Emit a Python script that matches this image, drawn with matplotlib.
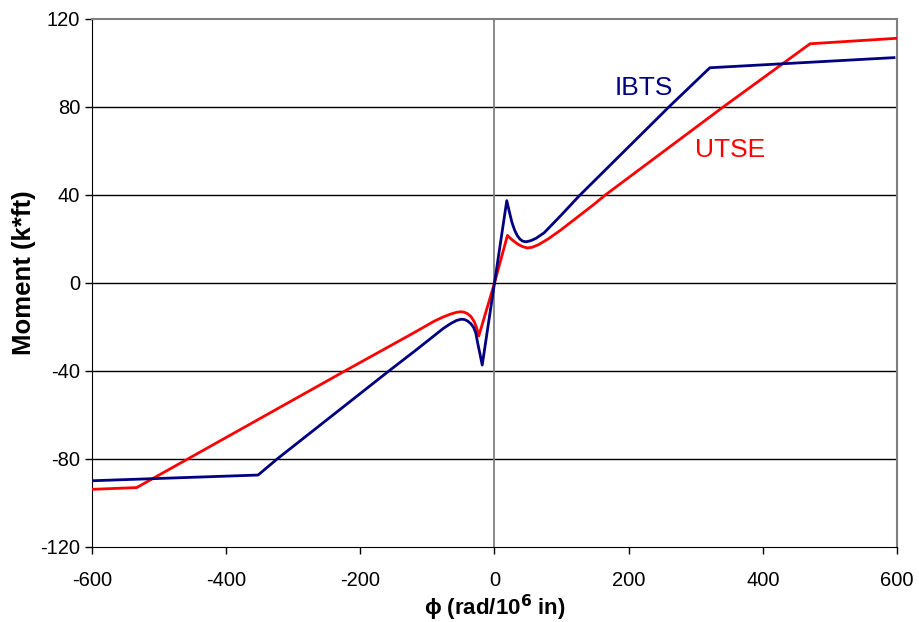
import numpy as np
import matplotlib
matplotlib.use("Agg")
from matplotlib import pyplot as plt

plt.rcParams['font.family'] = ['Liberation Sans', 'DejaVu Sans']
plt.rcParams['axes.unicode_minus'] = False

# IBTS curve (curvature in rad/10^6 in, moment in k*ft)
ibts_phi = [-600, -352.4, -324, -157.4, -117, -76, -65, -57, -50, -45, -40, -35,
            -31, -28, -25, -21.5, -18.3, 0, 18.3, 22, 26, 30, 34, 38, 42, 47,
            54, 62, 74, 100, 126, 260, 321, 595.5]
ibts_m = [-89.9, -87.3, -80, -40, -30.5, -20.6, -18.4, -17.1, -16.5, -16.6, -17.3, -18.6,
          -20.3, -22.6, -27.4, -32.5, -37.3, 0, 37.4, 32.5, 27.5, 24, 21.5, 19.9, 19, 18.7,
          19.2, 20.3, 22.8, 31, 39.5, 80, 97.8, 102.4]

# UTSE curve
utse_phi = [-600, -533.4, -223, -117, -90, -76, -65, -56, -50, -45, -40, -35, -30,
            -26.5, -23.4, 0, 19.3, 24, 30, 36, 42, 49, 56, 65, 80, 99, 149,
            165.3, 341, 470.4, 600]
utse_m = [-93.8, -93, -40, -22.1, -17.4, -15.4, -14.1, -13.3, -13.1, -13.3, -14, -15.3, -17.7,
          -20.5, -24.1, 0, 21.6, 20.2, 18.7, 17.4, 16.5, 15.9, 16.2, 17.3, 20, 24.1, 35.9,
          40, 80, 108.7, 111.2]

xticks = [-600, -400, -200, 0, 200, 400, 600]
yticks = [-120, -80, -40, 0, 40, 80, 120]

fig = plt.figure(figsize=(9.2, 6.22), dpi=100)
ax = fig.add_axes([0.1, 0.1206, 0.875, 0.849])

for y in yticks[1:-1]:
    ax.axhline(y, color='black', lw=1.0, zorder=1)
ax.axvline(0, color='#808080', lw=1.3, zorder=1)

ax.plot(utse_phi, utse_m, color='#FF0000', lw=2.0, zorder=3, solid_joinstyle='round')
ax.plot(ibts_phi, ibts_m, color='#000080', lw=2.0, zorder=4, solid_joinstyle='round')

ax.text(223, 88.6, 'IBTS', color='#000080', fontsize=19, ha='center', va='center')
ax.text(351, 60.5, 'UTSE', color='#FF0000', fontsize=19, ha='center', va='center')

ax.set_xlim(-600, 600)
ax.set_ylim(-120, 120)
ax.set_xticks(xticks)
ax.set_yticks(yticks)
ax.tick_params(direction='out', length=5, width=1, labelsize=14.5, colors='black')
ax.tick_params(axis='x', pad=12)
ax.spines['top'].set_color('#808080')
ax.spines['right'].set_color('#808080')
ax.spines['top'].set_linewidth(1.5)
ax.spines['right'].set_linewidth(1.5)

ax.set_xlabel('\u03d5 (rad/10$^\\mathbf{6}$ in)', fontsize=16, fontweight='bold', labelpad=2)
ax.set_ylabel('Moment (k*ft)', fontsize=18.5, fontweight='bold')
ax.yaxis.set_label_coords(-0.069, 0.519)

fig.savefig("out.png", dpi=100)
